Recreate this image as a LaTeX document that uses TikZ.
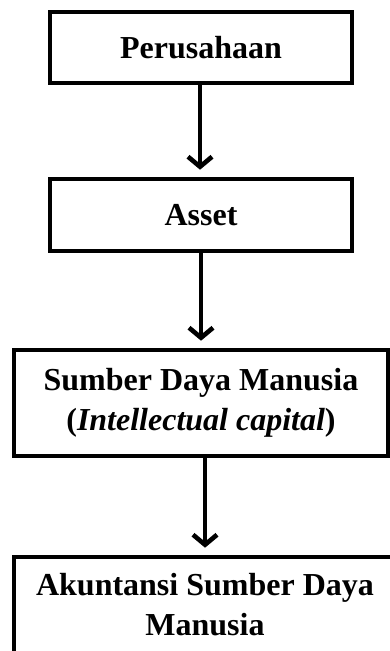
\documentclass[tikz,border=0pt]{standalone}
\usepackage{fontspec}
\setmainfont{Liberation Serif}
\usetikzlibrary{arrows.meta}
\begin{document}
\begin{tikzpicture}[x=1pt,y=1pt,
  box/.style={draw=black, line width=4.6pt, inner sep=0pt, align=center,
    font=\fontsize{32}{40}\selectfont\bfseries},
  flow/.style={line width=4.6pt, shorten >=7pt,
    -{Straight Barb[length=10pt,width=24pt,line width=4.6pt]},
    preaction={draw=gray!70, transform canvas={shift={(1.2pt,-1.8pt)}}}}
]
\clip (0,0) rectangle (390,651);
\useasboundingbox (0,0) rectangle (390,651);
\node[box, minimum width=302pt, minimum height=71pt] (b1) at (201,603.5) {Perusahaan};
\node[box, minimum width=302pt, minimum height=72pt] (b2) at (201,436) {Asset};
\node[box, minimum width=374pt, minimum height=106pt] (b3) at (201,248) {Sumber Daya Manusia\\(\textit{Intellectual capital})};
\node[box, minimum width=382pt, minimum height=96pt] (b4) at (205,46) {Akuntansi Sumber Daya\\Manusia};
\draw[flow] ([xshift=-1pt]b1.south) -- ([xshift=-1pt]b2.north);
\draw[flow] (b2.south) -- (b2.south |- b3.north);
\draw[flow] ([xshift=4pt]b3.south) -- ([xshift=4pt]b3.south |- b4.north);
\end{tikzpicture}
\end{document}
